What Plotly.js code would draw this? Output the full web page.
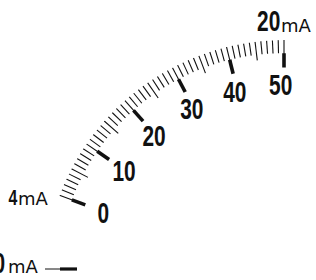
<!DOCTYPE html>
<html><head><meta charset="utf-8">
<script src="https://cdn.plot.ly/plotly-3.0.1.min.js"></script>
<style>
html,body{margin:0;padding:0;background:#fff;overflow:hidden}
#chart{width:316px;height:280px}
.textpoint text{transform-box:fill-box;transform-origin:center;transform:scaleX(0.72);}
.annotation[data-index="0"] text,.annotation[data-index="2"] text,.annotation[data-index="4"] text{transform-box:fill-box;transform-origin:right center;transform:scaleX(0.72);}
</style></head>
<body><div id="chart"></div>
<script>
// Scale data
const scaleMin = 0, scaleMax = 50;
const majorValues = [0, 10, 20, 30, 40, 50];
const majorLabels = ['0', '10', '20', '30', '40', '50'];
const halfValues = [5, 15, 25, 35, 45];
const minorValues = [1,2,3,4,6,7,8,9,11,12,13,14,16,17,18,19,21,22,23,24,26,27,28,29,31,32,33,34,36,37,38,39,41,42,43,44,46,47,48,49];
// current range labels
const rangeNumbers = ['4', '20', '0'];
const rangeUnit = 'mA';

// geometry (styles)
const startAngle = 159.3, spanAngle = 69.3;
const degPerUnit = spanAngle / (scaleMax - scaleMin);
const th = v => (v - scaleMin) * degPerUnit;
const labelShift = -1.0;

function tickTrace(vals, r0, r1, w) {
  const r = [], t = [];
  vals.forEach(v => { r.push(r0, r1, null); t.push(th(v), th(v), null); });
  return {type:'scatterpolar', mode:'lines', r:r, theta:t, cliponaxis:false,
          line:{color:'#111', width:w}, hoverinfo:'skip', connectgaps:false};
}

const traces = [
  tickTrace(minorValues, 1, 0.945, 1.1),
  tickTrace(halfValues, 1, 0.922, 1.1),
  tickTrace(majorValues, 1, 0.94, 1.1),
  tickTrace(majorValues, 0.945, 0.885, 3.6),
  {type:'scatterpolar', mode:'text', r:majorValues.map(()=>0.8), theta:majorValues.map(v=>th(v)+labelShift),
   text:majorLabels, textposition:'middle center', cliponaxis:false,
   textfont:{family:'Liberation Sans, Arial, sans-serif', size:29, weight:'bold', color:'#111'}, hoverinfo:'skip'}
];

const W = 316, H = 280, R = 240, cx = 284, cy = 280;
const secA = 89, secB = startAngle + 1.5;
const bx0 = R * Math.cos(secB*Math.PI/180), bx1 = R * Math.cos(secA*Math.PI/180);
const numFont = {family:'Liberation Sans, Arial, sans-serif', size:29, weight:'bold', color:'#111'};
const unitFont = {family:'DejaVu Sans, sans-serif', size:18, color:'#111'};
function ann(text, x, y, xanchor, font) {
  return {text:text, x:x/W, y:1-y/H, xref:'paper', yref:'paper', xanchor:xanchor, yanchor:'middle',
          showarrow:false, font:font, borderpad:0};
}
const layout = {
  width:W, height:H, margin:{l:0,r:0,t:0,b:0}, showlegend:false,
  paper_bgcolor:'#fff',
  polar:{
    domain:{x:[(cx+bx0)/W, (cx+bx1)/W], y:[0, R/H]},
    sector:[secA, secB], hole:0, bgcolor:'rgba(0,0,0,0)',
    radialaxis:{visible:false, range:[0,1]},
    angularaxis:{visible:false, direction:'clockwise', rotation:startAngle}
  },
  annotations:[
    ann(rangeNumbers[0], 18.5, 197.5, 'right', Object.assign({}, numFont, {size:22})),
    ann(rangeUnit, 17, 198, 'left', unitFont),
    ann(rangeNumbers[1], 281, 21.5, 'right', numFont),
    ann(rangeUnit, 280, 25, 'left', unitFont),
    ann(rangeNumbers[2], 6, 263, 'right', numFont),
    ann(rangeUnit, 7, 266, 'left', unitFont)
  ],
  shapes:[
    {type:'line', xref:'paper', yref:'paper', x0:45/W, x1:60/W, y0:1-269/H, y1:1-269/H, line:{color:'#111', width:1}},
    {type:'line', xref:'paper', yref:'paper', x0:60/W, x1:77/W, y0:1-269/H, y1:1-269/H, line:{color:'#111', width:3.2}}
  ]
};
Plotly.newPlot('chart', traces, layout, {displayModeBar:false, staticPlot:true});
</script></body></html>
